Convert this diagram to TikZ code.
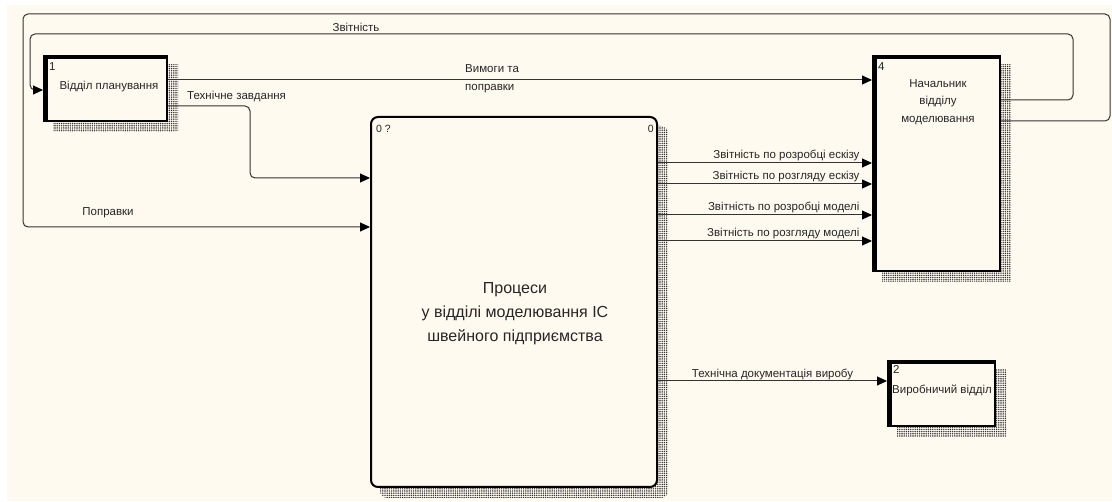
\documentclass[tikz,border=0pt]{standalone}
\usepackage{fontspec}
\setmainfont{Liberation Sans}
\usetikzlibrary{arrows.meta}
\usetikzlibrary{calc,patterns.meta,backgrounds}
\definecolor{paper}{RGB}{255,250,240}

\begin{document}
\begin{tikzpicture}
		[x=1pt,y=-1pt,
		box/.style={rectangle,draw=black,fill=paper,line width=2pt,inner sep=0pt},
		flow/.style={draw=black!80,line width=1pt,rounded corners=5pt,-{Triangle[length=10pt,width=9pt,color=black]}},
		lbl/.style={font=\fontsize{11.5}{13}\selectfont,text=black!85,inner sep=1pt},
		shade/.style={pattern={Dots[distance=2.2pt,radius=0.8pt]},pattern color=black!80},]
		\useasboundingbox (0,0) rectangle (1112,502);
		
		% boxes
		\node[box,minimum width=123pt,minimum height=65pt] (plan) at (105.5,88.5){};
		\node[box,minimum width=127pt,minimum height=215pt] (head) at (936.5,163.5){};
		\node[box,minimum width=107pt,minimum height=65pt] (prod) at (941.5,393.5){};
		\node[box,rounded corners=7pt,minimum width=286pt,minimum height=370pt] (proc) at (514,302){};
		
		\foreach \n in {plan,head,prod}{
			\draw[line width=5pt] ([xshift=2.5pt]\n.north west) -- ([xshift=2.5pt]\n.south west);
			\draw[line width=4pt] ([yshift=-2pt]\n.north west) -- ([yshift=-2pt]\n.north east);
		}
		
		\begin{pgfonlayer}{background}
			\fill[white] (0,0) rectangle (1112,502);
			\fill[paper] (7,5) rectangle (1112,501);
			\foreach \n in {plan,head,prod}
			\fill[shade] ([shift={(10pt,-10pt)}]\n.north west) rectangle ([shift={(10pt,-10pt)}]\n.south east);
			\fill[shade,rounded corners=7pt] ([shift={(10pt,-10pt)}]proc.north west) rectangle ([shift={(10pt,-10pt)}]proc.south east);
		\end{pgfonlayer}
		
		% box texts
		\node[lbl,anchor=north west] (plan-no) at (48,61){1};
		\node[lbl] (plan-txt) at (109,87){Відділ планування};
		\node[lbl,anchor=north west] (head-no) at (877,61){4};
		\node[lbl,align=center,anchor=north,font=\fontsize{11.5}{17.5}\selectfont] (head-txt) at (938,78){Начальник\\відділу\\моделювання};
		\node[lbl,anchor=north west] (prod-no) at (892,364){2};
		\node[lbl] (prod-txt) at (942,390){Виробничий відділ};
		\node[lbl,anchor=north west,font=\fontsize{10.5}{12}\selectfont] (proc-no) at (375,124){0 ?};
		\node[lbl,anchor=north east,font=\fontsize{10.5}{12}\selectfont] (proc-id) at (655,124){0};
		\node[lbl,align=center,font=\fontsize{16}{24}\selectfont] (proc-txt) at (515,314){Процеси\\у відділі моделювання ІС\\швейного підприємства};
		
		% loops
		\coordinate (zv-r) at (1073,34);
		\coordinate (zv-l) at (30,90);
		\coordinate (pp-r) at (1110,14);
		\coordinate (pp-l) at (23,227);
		\coordinate (tz) at (250,178);
		
		\draw[flow] ([yshift=63.5pt]head.east) -| (zv-r) -| (zv-l) -- ([yshift=-1.5pt]plan.west);
		\draw[flow] ([yshift=42.5pt]head.east) -| (pp-r) -| (pp-l) -- ([yshift=75pt]proc.west);
		\node[lbl] (zv-lbl) at (356,27){Звітність};
		\node[lbl] (pp-lbl) at (108,213){Поправки};
		
		\draw[flow] ([yshift=8.5pt]plan.east) -- ([yshift=8.5pt]plan.east -| head.west);
		\node[lbl,anchor=west,align=left,font=\fontsize{11.5}{18}\selectfont] (vm-lbl) at (464,79){Вимоги та\\поправки};
		
		\draw[flow] ([yshift=-17.5pt]plan.east) -| (tz) -- ([yshift=124pt]proc.west);
		\node[lbl,anchor=west] (tz-lbl) at (186,96){Технічне завдання};
		
		\foreach \dy/\txt in {139/Звітність по розробці ескізу,118/Звітність по розгляду ескізу,87/Звітність по розробці моделі,61/Звітність по розгляду моделі}
		\draw[flow] ([yshift=\dy pt]proc.east) -- ([yshift=\dy pt]proc.east -| head.west) node[lbl,anchor=south east,xshift=-11pt,yshift=1pt]{\txt};
		
		\draw[flow] ([yshift=-79pt]proc.east) -- ([yshift=-79pt]proc.east -| prod.west) node[lbl,midway,above]{Технічна документація виробу};
		
	\end{tikzpicture}
\end{document}
